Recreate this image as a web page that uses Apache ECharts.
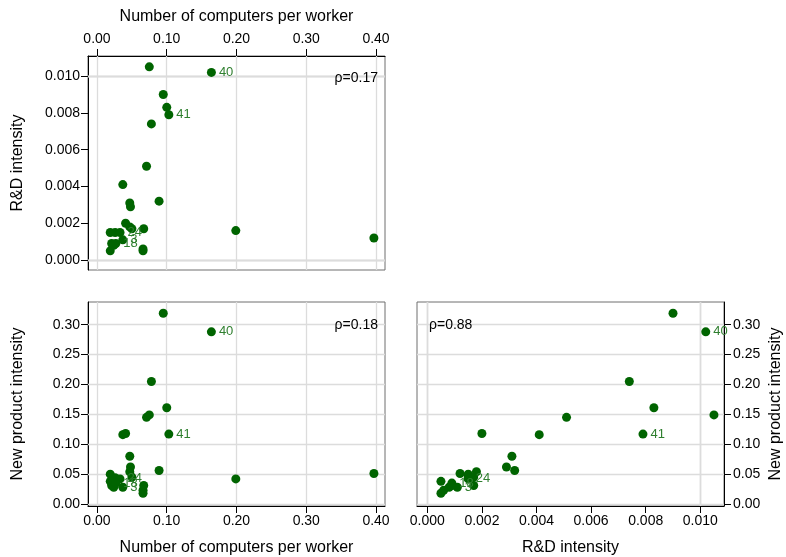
<!DOCTYPE html>
<html>
<head>
<meta charset="utf-8">
<title>Computers, R&amp;D and new products</title>
<script src="https://cdn.jsdelivr.net/npm/echarts@6/dist/echarts.min.js"></script>
<style>
  html, body { margin: 0; padding: 0; background: #fff; }
  #chart { width: 786px; height: 557px; }
</style>
</head>
<body>
<div id="chart"></div>
<script>
// One row per industry: computers per worker, R&D intensity, new product intensity
const industryLabels = ['', '40', '', '', '41', '', '', '', '', '', '', '', '', '',
  '', '', '24', '', '', '', '', '', '', '', '18', '3', ''];
const computersPerWorker = [0.095, 0.164, 0.078, 0.100, 0.103, 0.075, 0.071, 0.037, 0.041,
  0.089, 0.047, 0.048, 0.199, 0.397, 0.019, 0.026, 0.033, 0.021, 0.019, 0.024, 0.066,
  0.066, 0.067, 0.047, 0.027, 0.037, 0.050];
const rdIntensity = [0.0090, 0.0102, 0.0074, 0.0083, 0.0079, 0.0105, 0.0051, 0.0041, 0.0020,
  0.0032, 0.0031, 0.0029, 0.0016, 0.0012, 0.0015, 0.0015, 0.0015, 0.0009, 0.0005, 0.0008,
  0.0006, 0.0005, 0.0017, 0.0018, 0.0009, 0.0011, 0.0017];
const newProductIntensity = [0.319, 0.288, 0.205, 0.161, 0.117, 0.149, 0.145, 0.116, 0.118,
  0.056, 0.080, 0.062, 0.042, 0.051, 0.050, 0.044, 0.042, 0.031, 0.038, 0.028, 0.023,
  0.018, 0.031, 0.054, 0.035, 0.028, 0.045];

// Tick values for each measure
const computerTicks = [0, 0.1, 0.2, 0.3, 0.4];
const rdTicks = [0, 0.002, 0.004, 0.006, 0.008, 0.010];
const npiTicks = [0, 0.05, 0.10, 0.15, 0.20, 0.25, 0.30];

// Rank correlations printed in each panel
const rhoComputersRd = 'ρ=0.17';
const rhoComputersNpi = 'ρ=0.18';
const rhoRdNpi = 'ρ=0.88';

const FONT = '"Liberation Sans", Arial, Helvetica, sans-serif';
const POINT = '#006400';
const LABEL = '#2f7f2f';
const GRID = '#dcdcdc';

function pairs(xs, ys) {
  return xs.map((x, i) => {
    const item = { value: [x, ys[i]] };
    if (industryLabels[i]) {
      item.label = { show: true, formatter: industryLabels[i] };
    }
    return item;
  });
}

function gridLines(xt, yt) {
  return {
    silent: true,
    symbol: ['none', 'none'],
    label: { show: false },
    z: 1,
    animation: false,
    lineStyle: { color: GRID, width: 1.3, type: 'solid' },
    emphasis: { disabled: true },
    data: xt.map(v => ({ xAxis: v })).concat(yt.map(v => ({ yAxis: v })))
  };
}

function scatter(gridIndex, xs, ys, xt, yt) {
  return {
    type: 'scatter',
    xAxisIndex: gridIndex,
    yAxisIndex: gridIndex,
    symbolSize: 9,
    z: 3,
    itemStyle: { color: POINT, opacity: 1 },
    label: {
      show: false,
      position: 'right',
      distance: 3,
      color: LABEL,
      fontFamily: FONT,
      fontSize: 13
    },
    markLine: gridLines(xt, yt),
    data: pairs(xs, ys)
  };
}

const tickStyle = { show: true, length: 7, lineStyle: { color: '#000', width: 1 } };
const labelBase = { color: '#000', fontFamily: FONT, fontSize: 14 };
const nameBase = { color: '#000', fontFamily: FONT, fontSize: 16 };

function axis(opts) {
  const ticks = opts.ticks;
  const digits = opts.digits;
  return {
    type: 'value',
    gridIndex: opts.grid,
    position: opts.position,
    min: opts.min,
    max: opts.max,
    name: opts.name,
    nameLocation: 'middle',
    nameGap: opts.nameGap,
    nameTextStyle: nameBase,
    axisLine: { show: true, onZero: false, lineStyle: { color: '#000', width: 1 } },
    axisTick: Object.assign({ customValues: ticks }, tickStyle),
    axisLabel: Object.assign({
      customValues: ticks,
      margin: opts.margin,
      formatter: v => Number(v).toFixed(digits)
    }, labelBase),
    splitLine: { show: false }
  };
}

const option = {
  animation: false,
  backgroundColor: '#fff',
  grid: [
    { left: 88, top: 56, width: 297, height: 214, show: true, borderColor: '#6e6e6e', borderWidth: 1, backgroundColor: '#fff' },
    { left: 88, top: 302, width: 297, height: 207, show: true, borderColor: '#6e6e6e', borderWidth: 1, backgroundColor: '#fff' },
    { left: 417, top: 302, width: 307, height: 207, show: true, borderColor: '#6e6e6e', borderWidth: 1, backgroundColor: '#fff' }
  ],
  xAxis: [
    axis({ grid: 0, position: 'top', min: -0.0129, max: 0.4129, ticks: computerTicks, digits: 2,
      name: 'Number of computers per worker', nameGap: 31, margin: 10 }),
    axis({ grid: 1, position: 'bottom', min: -0.0129, max: 0.4129, ticks: computerTicks, digits: 2,
      name: 'Number of computers per worker', nameGap: 34, margin: 8 }),
    axis({ grid: 2, position: 'bottom', min: -0.000377, max: 0.010868, ticks: rdTicks, digits: 3,
      name: 'R&D intensity', nameGap: 34, margin: 8 })
  ],
  yAxis: [
    axis({ grid: 0, position: 'left', min: -0.00054, max: 0.01109, ticks: rdTicks, digits: 3,
      name: 'R&D intensity', nameGap: 62, margin: 8 }),
    axis({ grid: 1, position: 'left', min: -0.0033, max: 0.3379, ticks: npiTicks, digits: 2,
      name: 'New product intensity', nameGap: 62, margin: 8 }),
    axis({ grid: 2, position: 'right', min: -0.0033, max: 0.3379, ticks: npiTicks, digits: 2,
      name: 'New product intensity', nameGap: 44, margin: 9 })
  ],
  series: [
    scatter(0, computersPerWorker, rdIntensity, computerTicks, rdTicks),
    scatter(1, computersPerWorker, newProductIntensity, computerTicks, npiTicks),
    scatter(2, rdIntensity, newProductIntensity, rdTicks, npiTicks)
  ],
  graphic: [
    { type: 'text', x: 378, y: 78, z: 10,
      style: { text: rhoComputersRd, font: '14px ' + FONT, fill: '#000', align: 'right', verticalAlign: 'middle' } },
    { type: 'text', x: 378, y: 325, z: 10,
      style: { text: rhoComputersNpi, font: '14px ' + FONT, fill: '#000', align: 'right', verticalAlign: 'middle' } },
    { type: 'text', x: 429, y: 325, z: 10,
      style: { text: rhoRdNpi, font: '14px ' + FONT, fill: '#000', align: 'left', verticalAlign: 'middle' } }
  ]
};

const chart = echarts.init(document.getElementById('chart'), null, { renderer: 'canvas' });
chart.setOption(option);
</script>
</body>
</html>
